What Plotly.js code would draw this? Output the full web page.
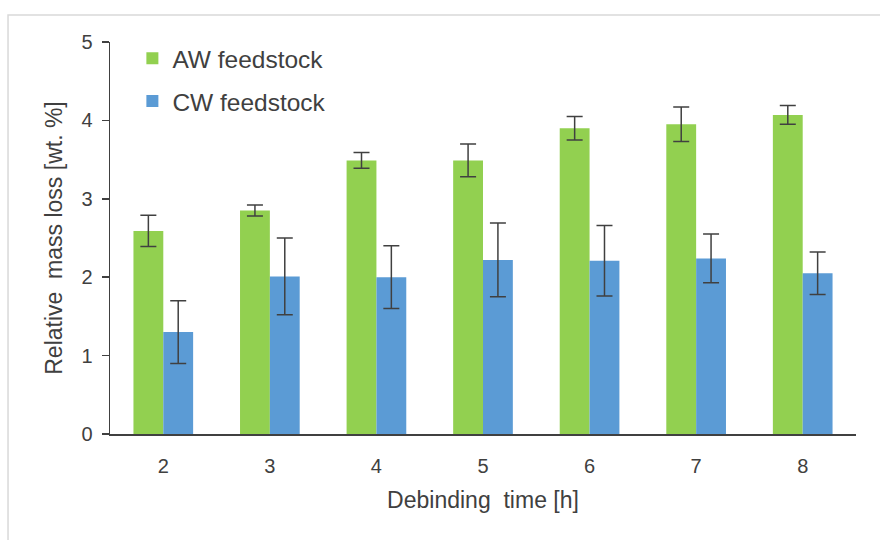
<!DOCTYPE html>
<html>
<head>
<meta charset="utf-8">
<script src="https://cdn.plot.ly/plotly-3.0.1.min.js"></script>
<style>
html,body{margin:0;padding:0;background:#fff;}
#chart{width:880px;height:540px;}
</style>
</head>
<body>
<div id="chart"></div>
<script>
const categories = ["2", "3", "4", "5", "6", "7", "8"];
const awValues = [2.59, 2.85, 3.49, 3.49, 3.90, 3.95, 4.07];
const awErrors = [0.20, 0.07, 0.10, 0.21, 0.15, 0.22, 0.12];
const cwValues = [1.30, 2.01, 2.00, 2.22, 2.21, 2.24, 2.05];
const cwErrors = [0.40, 0.49, 0.40, 0.47, 0.45, 0.31, 0.27];
const seriesNames = ["AW feedstock", "CW feedstock"];

const errStyle = {type: "data", visible: true, color: "#404040", thickness: 1.5, width: 8};

const traces = [
  {
    type: "bar", name: seriesNames[0], x: categories, y: awValues,
    marker: {color: "#92D050"}, legendgroup: "a",
    error_y: Object.assign({array: awErrors}, errStyle)
  },
  {
    type: "bar", name: seriesNames[1], x: categories, y: cwValues,
    marker: {color: "#5B9BD5"}, legendgroup: "b",
    error_y: Object.assign({array: cwErrors}, errStyle)
  }
];

const font = "Liberation Sans, Arial, sans-serif";

const layout = {
  width: 880, height: 540,
  margin: {l: 110, r: 24, t: 42, b: 106},
  paper_bgcolor: "#fff", plot_bgcolor: "#fff",
  barmode: "group", bargap: 0.44, bargroupgap: 0,
  font: {family: font, color: "#404040"},
  showlegend: true,
  legend: {
    x: 0.03, y: 1.016, xanchor: "left", yanchor: "top",
    font: {size: 24.5, color: "#404040", family: font},
    bgcolor: "rgba(0,0,0,0)", tracegroupgap: 8, itemwidth: 30
  },
  xaxis: {
    type: "category",
    showline: true, linecolor: "#404040", linewidth: 1.5,
    ticks: "", showgrid: false, zeroline: false,
    ticklabelstandoff: 13,
    tickfont: {size: 20, color: "#404040"},
    title: {text: "Debinding  time [h]", font: {size: 23, color: "#404040"}, standoff: 16}
  },
  yaxis: {
    range: [0, 5], dtick: 1,
    showline: true, linecolor: "#404040", linewidth: 1.5,
    ticks: "outside", ticklen: 7, tickcolor: "#404040", tickwidth: 1.5,
    ticklabelstandoff: 5,
    showgrid: false, zeroline: false,
    tickfont: {size: 20, color: "#404040"},
    title: {text: "Relative  mass loss [wt. %]", font: {size: 23, color: "#404040"}, standoff: 12}
  },
  shapes: [{
    type: "rect", xref: "paper", yref: "paper",
    x0: -0.1367, x1: 1.05, y0: -0.3, y1: 1.069,
    line: {color: "#d9d9d9", width: 1.5}, fillcolor: "rgba(0,0,0,0)", layer: "below"
  }]
};

Plotly.newPlot("chart", traces, layout, {displayModeBar: false, staticPlot: true});
</script>
</body>
</html>
